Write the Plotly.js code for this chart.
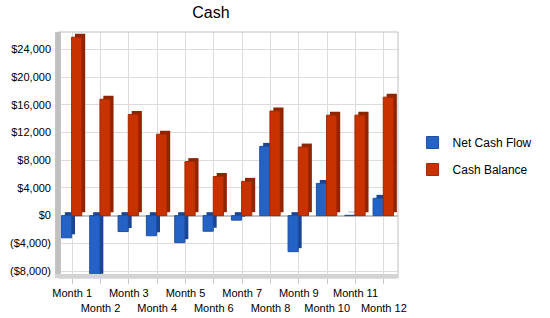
<!DOCTYPE html>
<html>
<head>
<meta charset="utf-8">
<script src="https://cdn.plot.ly/plotly-3.0.1.min.js"></script>
<style>html,body{margin:0;padding:0;background:#fff;}#chart{width:550px;height:318px;}</style>
</head>
<body>
<div id="chart"></div>
<script>
// ---- data ----
const months = ["Month 1","Month 2","Month 3","Month 4","Month 5","Month 6","Month 7","Month 8","Month 9","Month 10","Month 11","Month 12"];
const netCashFlow = [-3200, -8900, -2300, -2900, -3900, -2250, -650, 10000, -5200, 4650, 50, 2500];
const cashBalance = [25750, 16800, 14600, 11750, 7800, 5650, 4950, 15100, 9900, 14500, 14500, 17100];
const yTickVals = [-8000, -4000, 0, 4000, 8000, 12000, 16000, 20000, 24000];
const yTickText = ["($8,000)", "($4,000)", "$0", "$4,000", "$8,000", "$12,000", "$16,000", "$20,000", "$24,000"];
const xTickText = months.map((m, i) => (i % 2 === 1 ? "<br>" + m : m));

// ---- style ----
const BLUE = "#2562c6", BLUE_D = "#1b4592";
const RED = "#c83200", RED_D = "#8e2400";
const DEPTH_X = 0.12, DEPTH_Y = 500, BW = 0.36;
const FONT = "Arial, 'Liberation Sans', sans-serif";

const traces = [
  {type: "bar", x: months, y: netCashFlow, base: DEPTH_Y, offset: -0.38 + DEPTH_X, width: BW,
   marker: {color: BLUE_D}, showlegend: false, hoverinfo: "skip"},
  {type: "bar", name: "Net Cash Flow", x: months, y: netCashFlow, offset: -0.38, width: BW,
   marker: {color: BLUE, line: {color: "#1d4fa3", width: 1}}, legendgroup: "a"},
  {type: "bar", x: months, y: cashBalance, base: DEPTH_Y, offset: -0.02 + DEPTH_X, width: BW,
   marker: {color: RED_D}, showlegend: false, hoverinfo: "skip"},
  {type: "bar", name: "Cash Balance", x: months, y: cashBalance, offset: -0.02, width: BW,
   marker: {color: RED, line: {color: "#a32900", width: 1}}, legendgroup: "b"}
];

const L = 58, R = 142, T = 32, B = 40, W = 550 - L - R, H = 318 - T - B;
const px = v => (v - L) / W;
const py = v => 1 - (v - T) / H;

const layout = {
  width: 550, height: 318,
  margin: {l: L, r: R, t: T, b: B, pad: 0},
  paper_bgcolor: "#ffffff", plot_bgcolor: "#ffffff",
  font: {family: FONT, size: 11, color: "#000"},
  barmode: "overlay",
  title: {text: "Cash", font: {family: FONT, size: 16, color: "#000"},
          x: 211 / 550, xref: "container", xanchor: "center",
          y: 1 - 12 / 318, yref: "container", yanchor: "middle"},
  xaxis: {type: "category", tickvals: months, ticktext: xTickText, tickangle: 0,
          showgrid: true, gridcolor: "#dcdcdc", gridwidth: 1,
          ticks: "outside", ticklen: 5, tickcolor: "#c8c8c8",
          tickfont: {family: FONT, size: 11, color: "#000"},
          showline: false, zeroline: false, fixedrange: true},
  yaxis: {range: [-9000, 26500], tickvals: yTickVals, ticktext: yTickText,
          showgrid: true, gridcolor: "#dcdcdc", gridwidth: 1,
          zeroline: true, zerolinecolor: "#c4c4c4", zerolinewidth: 2,
          ticks: "", ticklabelstandoff: 6,
          tickfont: {family: FONT, size: 11, color: "#000"},
          showline: false, fixedrange: true},
  legend: {x: px(423), y: py(128), xanchor: "left", yanchor: "top",
           font: {family: FONT, size: 12, color: "#000"},
           traceorder: "grouped", tracegroupgap: 8, bgcolor: "rgba(0,0,0,0)"},
  shapes: [
    {type: "rect", xref: "paper", yref: "paper", x0: 0, x1: 1, y0: 0, y1: 1,
     line: {color: "#c0c0c0", width: 1}, fillcolor: "rgba(0,0,0,0)", layer: "above"},
    {type: "rect", xref: "paper", yref: "paper", x0: px(55), x1: px(61), y0: py(278), y1: 1,
     line: {width: 0}, fillcolor: "#c0c0c0", layer: "above"},
    {type: "rect", xref: "paper", yref: "paper", x0: px(55), x1: 1, y0: py(278), y1: py(274),
     line: {width: 0}, fillcolor: "#d4d4d4", layer: "above"}
  ],
  showlegend: true
};

Plotly.newPlot("chart", traces, layout, {displayModeBar: false, staticPlot: true});
</script>
</body>
</html>
